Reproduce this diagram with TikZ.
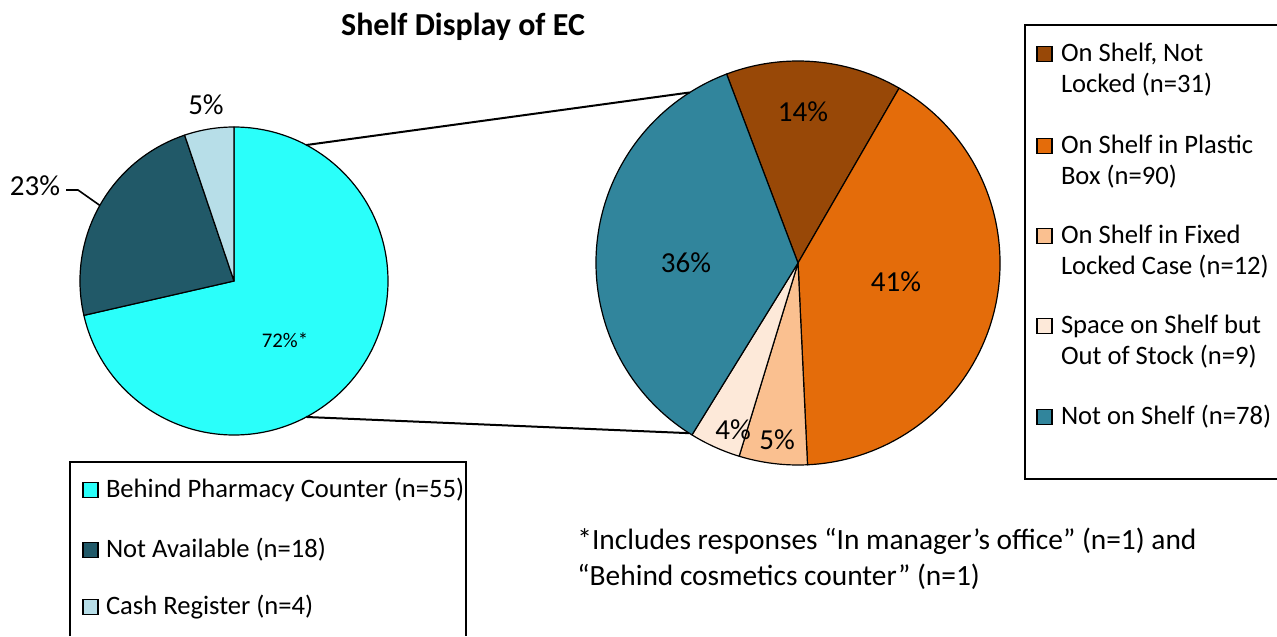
\documentclass[tikz,border=0pt]{standalone}
\usepackage{fontspec}
\setmainfont{Carlito}
\usetikzlibrary{positioning}
\definecolor{ECCyan}{RGB}{42,255,250}
\definecolor{ECNavy}{RGB}{33,89,104}
\definecolor{ECPale}{RGB}{183,222,232}
\definecolor{ECBrown}{RGB}{152,72,7}
\definecolor{ECOrange}{RGB}{228,108,10}
\definecolor{ECPeach}{RGB}{250,192,144}
\definecolor{ECCream}{RGB}{253,233,217}
\definecolor{ECTeal}{RGB}{49,133,156}

\begin{document}
\begin{tikzpicture}[x=0.5pt, y=-0.5pt, font=\fontsize{13.3}{15.5}\selectfont]
          \tikzset{
            sl/.style={draw=black, line width=0.6pt, line join=round},
            pct/.style={inner sep=0pt, font=\fontsize{14.5}{16}\selectfont},
            key/.style={draw=black, line width=0.6pt, minimum size=7.5pt, inner sep=0pt},
            txt/.style={inner sep=0pt, align=left},
            box/.style={draw=black, line width=0.8pt},
            lnk/.style={draw=black, line width=1pt}
          }
          \useasboundingbox (0,0) rectangle (1277,636);
          \node[font=\fontsize{16}{18}\selectfont\bfseries] (title) at (463,27) {Shelf Display of EC};

          % where is EC kept
          \begin{scope}[shift={(234,281)}, y=0.5pt]
            \filldraw[sl, fill=ECCyan] (0,0) -- (90:154) arc[start angle=90, end angle=-167.1, radius=154] -- cycle;
            \filldraw[sl, fill=ECNavy] (0,0) -- (192.9:154) arc[start angle=192.9, end angle=108.7, radius=154] -- cycle;
            \filldraw[sl, fill=ECPale] (0,0) -- (108.7:154) arc[start angle=108.7, end angle=90, radius=154] -- cycle;
            \coordinate (lhi) at (62:154);
            \coordinate (llo) at (-62:154);
            \coordinate (ltip) at (150.6:154);
          \end{scope}
          \node[pct] (lcash) at (206,105) {5\%};
          \node[pct] (lnone) at (35,186) {23\%};
          \node[pct, font=\fontsize{10.4}{12}\selectfont] (lbehind) at (285,340) {72\%*};
          \coordinate (lknee) at (78,190);
          \draw[line width=0.8pt] (66,190) -- (lknee) -- (ltip);

          % on the shelf
          \begin{scope}[shift={(798,263)}, y=0.5pt]
            \filldraw[sl, fill=ECBrown] (0,0) -- (110.7:202) arc[start angle=110.7, end angle=59.97, radius=202] -- cycle;
            \filldraw[sl, fill=ECOrange] (0,0) -- (59.97:202) arc[start angle=59.97, end angle=-87.3, radius=202] -- cycle;
            \filldraw[sl, fill=ECPeach] (0,0) -- (-87.3:202) arc[start angle=-87.3, end angle=-106.94, radius=202] -- cycle;
            \filldraw[sl, fill=ECCream] (0,0) -- (-106.94:202) arc[start angle=-106.94, end angle=-121.67, radius=202] -- cycle;
            \filldraw[sl, fill=ECTeal] (0,0) -- (-121.67:202) arc[start angle=-121.67, end angle=-249.3, radius=202] -- cycle;
            \coordinate (rhi) at (122.4:202);
            \coordinate (rlo) at (-122.6:202);
          \end{scope}
          \node[pct] (rnotlock) at (803,112) {14\%};
          \node[pct] (rplastic) at (896,282) {41\%};
          \node[pct] (rfixed) at (777,440) {5\%};
          \node[pct] (rspace) at (733,430) {4\%};
          \node[pct] (rnotshelf) at (686,263) {36\%};

          \draw[lnk] (lhi) -- (rhi);
          \draw[lnk] (llo) -- (rlo);

          % legends
          \draw[box] (70,636) -- (70,462) -- (466,462) -- (466,636);
          \node[key, fill=ECCyan] (kbehind) at (90.5,490) {};
          \node[key, fill=ECNavy] (knone) at (90.5,550) {};
          \node[key, fill=ECPale] (kcash) at (90.5,607) {};
          \node[txt, right=3.5pt of kbehind] (tbehind) {Behind Pharmacy Counter (n=55)};
          \node[txt, right=3.5pt of knone] (tnone) {Not Available (n=18)};
          \node[txt, right=3.5pt of kcash] (tcash) {Cash Register (n=4)};

          \draw[box] (1277,25) -- (1025,25) -- (1025,479) -- (1277,479);
          \node[key, fill=ECBrown] (knotlock) at (1044.5,54) {};
          \node[key, fill=ECOrange] (kplastic) at (1044.5,146) {};
          \node[key, fill=ECPeach] (kfixed) at (1044.5,236) {};
          \node[key, fill=ECCream] (kspace) at (1044.5,326) {};
          \node[key, fill=ECTeal] (knotshelf) at (1044.5,417) {};
          \node[txt, right=4pt of knotlock, yshift=-7.75pt] (tnotlock) {On Shelf, Not\\Locked (n=31)};
          \node[txt, right=4pt of kplastic, yshift=-7.75pt] (tplastic) {On Shelf in Plastic\\Box (n=90)};
          \node[txt, right=4pt of kfixed, yshift=-7.75pt] (tfixed) {On Shelf in Fixed\\Locked Case (n=12)};
          \node[txt, right=4pt of kspace, yshift=-7.75pt] (tspace) {Space on Shelf but\\Out of Stock (n=9)};
          \node[txt, right=4pt of knotshelf] (tnotshelf) {Not on Shelf (n=78)};

          \node[txt, anchor=west, font=\fontsize{14.7}{18}\selectfont] (note) at (577,559) {*Includes responses “In manager’s office” (n=1) and\\“Behind cosmetics counter” (n=1)};
        \end{tikzpicture}
\end{document}
